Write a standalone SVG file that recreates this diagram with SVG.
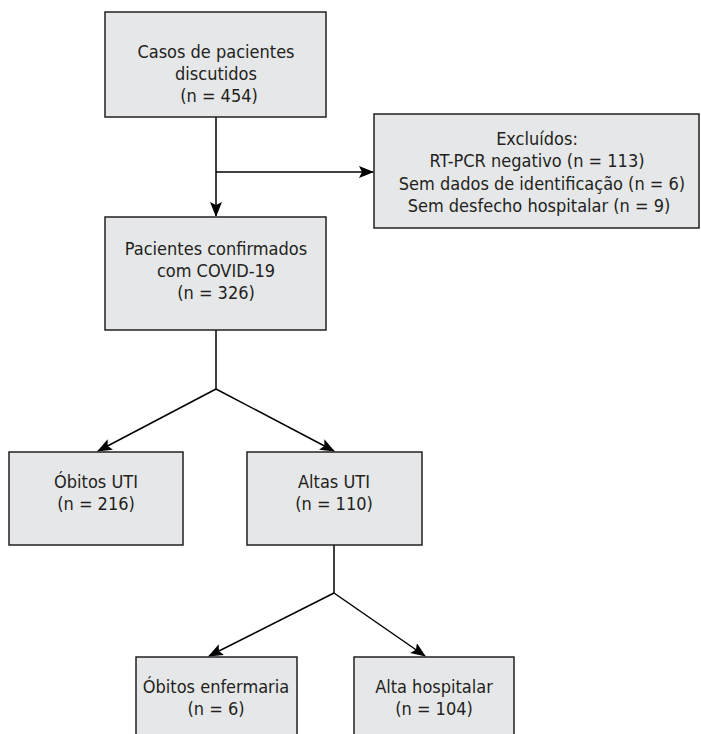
<svg xmlns="http://www.w3.org/2000/svg" width="701" height="734" viewBox="0 0 701 734">
<style>
.box{fill:#e6e7e8;stroke:#231f20;stroke-width:1.5}
.t{font-family:"DejaVu Sans Condensed","DejaVu Sans",sans-serif;font-size:18px;fill:#231f20;text-anchor:middle}
.c{fill:none;stroke:#000;stroke-width:1.5}
</style>
<defs>
<marker id="ah" markerWidth="15" markerHeight="12" refX="14" refY="6" orient="auto" markerUnits="userSpaceOnUse">
<path d="M0,0 L15,6 L0,12 L3,6 Z" fill="#000"/>
</marker>
</defs>
<g id="connectors">
<line class="c" x1="216" y1="117" x2="216" y2="216" marker-end="url(#ah)"/>
<line class="c" x1="216" y1="172" x2="373" y2="172" marker-end="url(#ah)"/>
<polyline class="c" points="216,330 216,389"/>
<line class="c" x1="216" y1="389" x2="98" y2="451" marker-end="url(#ah)"/>
<line class="c" x1="216" y1="389" x2="334" y2="451" marker-end="url(#ah)"/>
<polyline class="c" points="334,545 334,593"/>
<line class="c" x1="334" y1="593" x2="209" y2="656" marker-end="url(#ah)"/>
<line class="c" x1="334" y1="593" x2="425" y2="656" marker-end="url(#ah)"/>
</g>
<g id="n1">
<rect class="box" x="105" y="12" width="221" height="105"/>
<text class="t" x="216" y="58">Casos de pacientes</text>
<text class="t" x="216" y="80">discutidos</text>
<text class="t" x="219" y="102">(n = 454)</text>
</g>
<g id="n2">
<rect class="box" x="374" y="114" width="325" height="114"/>
<text class="t" x="537" y="145">Excluídos:</text>
<text class="t" x="537" y="167">RT-PCR negativo (n = 113)</text>
<text class="t" x="542" y="190">Sem dados de identificação (n = 6)</text>
<text class="t" x="539" y="212">Sem desfecho hospitalar (n = 9)</text>
</g>
<g id="n3">
<rect class="box" x="105" y="217" width="221" height="113"/>
<text class="t" x="216" y="255">Pacientes confirmados</text>
<text class="t" x="216" y="277">com COVID-19</text>
<text class="t" x="216" y="299">(n = 326)</text>
</g>
<g id="n4">
<rect class="box" x="9" y="452" width="174" height="93"/>
<text class="t" x="96" y="488">Óbitos UTI</text>
<text class="t" x="96" y="510">(n = 216)</text>
</g>
<g id="n5">
<rect class="box" x="247" y="452" width="175" height="93"/>
<text class="t" x="334" y="488">Altas UTI</text>
<text class="t" x="334" y="510">(n = 110)</text>
</g>
<g id="n6">
<rect class="box" x="136" y="657" width="161" height="90"/>
<text class="t" x="216" y="693">Óbitos enfermaria</text>
<text class="t" x="216" y="715">(n = 6)</text>
</g>
<g id="n7">
<rect class="box" x="354" y="657" width="160" height="90"/>
<text class="t" x="434" y="693">Alta hospitalar</text>
<text class="t" x="434" y="715">(n = 104)</text>
</g>
</svg>
